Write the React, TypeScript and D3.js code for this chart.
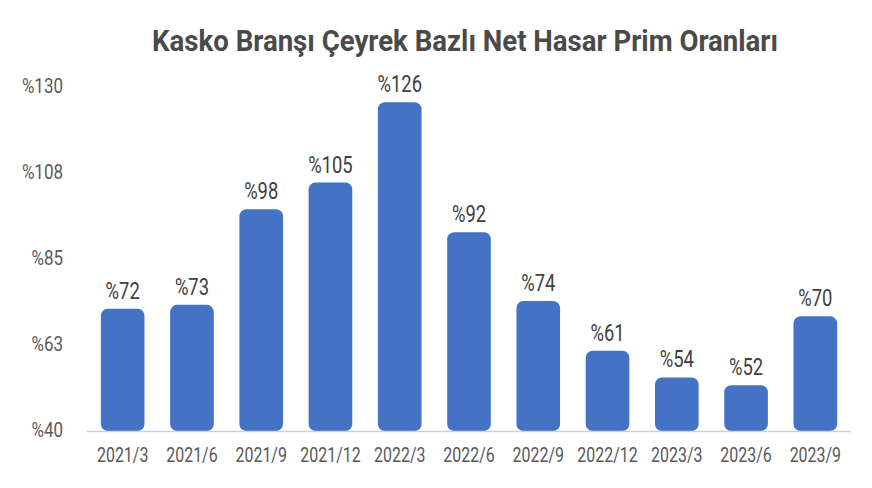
import React, { useEffect, useRef } from "react";
import * as d3 from "d3";

const categories = ["2021/3", "2021/6", "2021/9", "2021/12", "2022/3", "2022/6", "2022/9", "2022/12", "2023/3", "2023/6", "2023/9"];
const values = [72, 73, 98, 105, 126, 92, 74, 61, 54, 52, 70];
const yTicks = [40, 62.5, 85, 107.5, 130];
const yTickLabels = ["%40", "%63", "%85", "%108", "%130"];
const title = "Kasko Branşı Çeyrek Bazlı Net Hasar Prim Oranları";

const App = () => {
  const svgRef = useRef<SVGSVGElement>(null);

  useEffect(() => {
    const width = 872;
    const height = 488;
    const margin = { top: 87, right: 21, bottom: 57, left: 87 };
    const font = "Roboto, 'Liberation Sans', sans-serif";

    const svg = d3.select(svgRef.current);
    svg.selectAll("*").remove();

    svg.append("rect").attr("width", width).attr("height", height).attr("fill", "#ffffff");

    const x = d3
      .scaleBand()
      .domain(categories)
      .range([margin.left, width - margin.right])
      .paddingInner(0.37)
      .paddingOuter(0.2);

    const y = d3
      .scaleLinear()
      .domain([40, 130])
      .range([height - margin.bottom, margin.top]);

    // title
    svg
      .append("text")
      .attr("x", 152)
      .attr("y", 51)
      .attr("textLength", 626)
      .attr("lengthAdjust", "spacingAndGlyphs")
      .style("font-family", font)
      .style("font-weight", "bold")
      .style("font-size", "30px")
      .attr("fill", "#4a4a4a")
      .text(title);

    // y tick labels (no axis line), narrowed to look condensed
    svg
      .append("g")
      .selectAll("text")
      .data(yTicks)
      .enter()
      .append("text")
      .attr("transform", (d) => `translate(63,${y(d) + 6}) scale(0.85,1)`)
      .attr("text-anchor", "end")
      .style("font-family", font)
      .style("font-size", "20px")
      .attr("fill", "#595959")
      .text((d, i) => yTickLabels[i]);

    // bars
    svg
      .selectAll("rect.bar")
      .data(values)
      .enter()
      .append("rect")
      .attr("class", "bar")
      .attr("x", (d, i) => x(categories[i])!)
      .attr("y", (d) => y(d))
      .attr("width", x.bandwidth())
      .attr("height", (d) => y(40) - y(d))
      .attr("rx", 7)
      .attr("fill", "#4472c4");

    // value labels
    svg
      .selectAll("text.val")
      .data(values)
      .enter()
      .append("text")
      .attr("class", "val")
      .attr(
        "transform",
        (d, i) => `translate(${x(categories[i])! + x.bandwidth() / 2},${y(d) - 10}) scale(0.8,1)`
      )
      .attr("text-anchor", "middle")
      .style("font-family", font)
      .style("font-size", "23px")
      .attr("fill", "#404040")
      .text((d) => "%" + d);

    // baseline
    svg
      .append("line")
      .attr("x1", margin.left)
      .attr("x2", width - margin.right)
      .attr("y1", y(40) + 0.5)
      .attr("y2", y(40) + 0.5)
      .attr("stroke", "#d0d0d0")
      .attr("stroke-width", 1.5);

    // category labels
    svg
      .selectAll("text.cat")
      .data(categories)
      .enter()
      .append("text")
      .attr("class", "cat")
      .attr("transform", (d) => `translate(${x(d)! + x.bandwidth() / 2},462) scale(0.76,1)`)
      .attr("text-anchor", "middle")
      .style("font-family", font)
      .style("font-size", "21px")
      .attr("fill", "#595959")
      .text((d) => d);
  }, []);

  return (
    <svg
      ref={svgRef}
      width="872"
      height="488"
      style={{ position: "absolute", left: 0, top: 0, display: "block" }}
    ></svg>
  );
};

export default App;
